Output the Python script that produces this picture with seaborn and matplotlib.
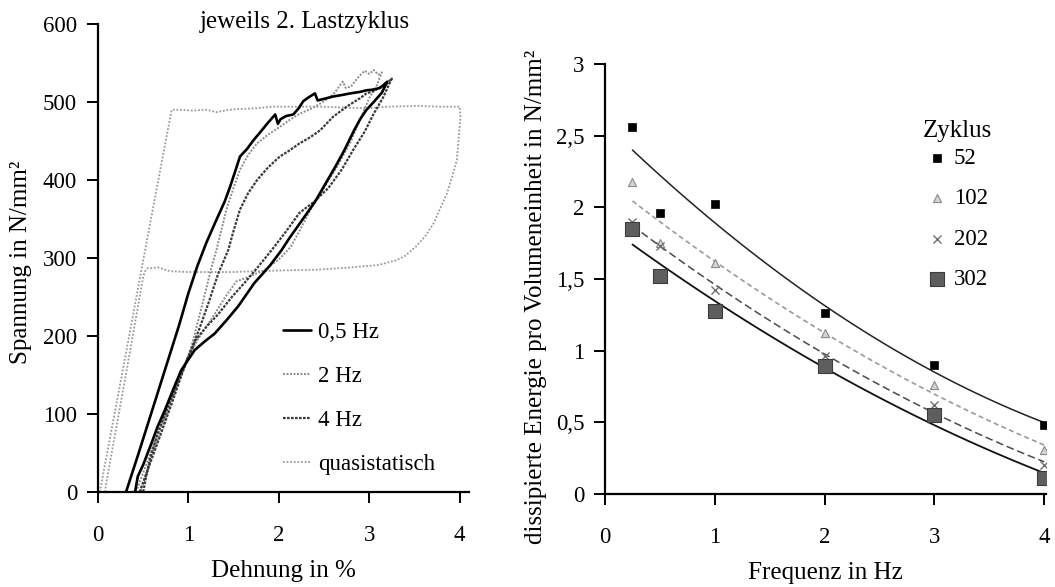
import numpy as np
import pandas as pd
import matplotlib
matplotlib.use("Agg")
import matplotlib.pyplot as plt
import seaborn as sns

# ---------------- data: left panel (stress-strain loops, 2nd load cycle) ----------------
hz05_strain = [0.31, 0.45, 0.60, 0.75, 0.90, 1.00, 1.10, 1.20, 1.31, 1.40, 1.46,
               1.52, 1.57, 1.65, 1.72, 1.80, 1.87, 1.93, 1.96, 1.99, 2.02, 2.08, 2.16, 2.22, 2.27, 2.33, 2.40,
               2.43, 2.50, 2.60, 2.70, 2.79, 2.90, 2.97, 3.05, 3.12, 3.20, 3.14, 3.05, 2.97, 2.90, 2.83, 2.72,
               2.63, 2.53, 2.40, 2.23, 2.12, 2.03, 1.90, 1.73, 1.64, 1.55, 1.42, 1.29, 1.18, 1.07, 1.00, 0.92,
               0.83, 0.74, 0.66, 0.59, 0.50, 0.44, 0.41]
hz05_stress = [0, 50, 105, 160, 215, 255, 290, 320, 349, 372, 391,
               412, 430, 440, 451, 462, 472, 480, 484, 472, 478, 482, 484, 492, 501, 506, 511,
               502, 504, 507, 509, 511, 513, 515, 516, 518, 526, 512, 500, 490, 478, 463, 437,
               418, 398, 372, 344, 326, 310, 290, 268, 253, 238, 220, 203, 193, 182, 170, 156,
               131, 105, 84, 62, 35, 20, 0]

hz2_strain = [0.42, 0.55, 0.68, 0.80, 0.92, 1.03, 1.12, 1.20, 1.26, 1.31, 1.42, 1.50, 1.57, 1.66, 1.76, 1.88,
              2.01, 2.12, 2.23, 2.35, 2.46, 2.55, 2.62, 2.68, 2.71, 2.74, 2.80, 2.88, 2.95, 3.00, 3.05, 3.10,
              3.14, 3.08, 3.00, 2.90, 2.80, 2.65, 2.50, 2.35, 2.23, 2.13, 2.00, 1.83, 1.65, 1.53, 1.42, 1.30,
              1.20, 1.10, 1.00, 0.90, 0.80, 0.70, 0.60, 0.52, 0.47]
hz2_stress = [0, 40, 80, 118, 152, 185, 225, 262, 290, 310, 362, 390, 413, 432, 447, 458,
              468, 477, 485, 491, 498, 505, 512, 522, 526, 518, 520, 532, 540, 536, 541, 535,
              538, 520, 505, 478, 450, 418, 390, 362, 335, 314, 298, 284, 275, 270, 252, 230,
              212, 195, 172, 145, 112, 80, 48, 18, 0]

hz4_strain = [0.46, 0.58, 0.70, 0.82, 0.94, 1.03, 1.13, 1.23, 1.33, 1.44, 1.50, 1.57, 1.66, 1.76, 1.88, 2.01,
              2.12, 2.23, 2.35, 2.46, 2.60, 2.75, 2.90, 2.97, 3.05, 3.12, 3.18, 3.25, 3.15, 3.05, 2.95, 2.82,
              2.70, 2.55, 2.40, 2.23, 2.08, 1.92, 1.78, 1.62, 1.48, 1.33, 1.20, 1.08, 0.97, 0.86, 0.76, 0.66,
              0.58, 0.53, 0.50]
hz4_stress = [0, 38, 76, 115, 155, 182, 212, 245, 280, 310, 335, 362, 383, 400, 416, 430,
              438, 447, 455, 464, 481, 494, 505, 511, 514, 519, 522, 530, 505, 485, 462, 438,
              414, 390, 373, 358, 334, 310, 290, 268, 250, 228, 212, 195, 165, 135, 105, 75,
              45, 18, 0]

qs_strain = [0.02, 0.30, 0.50, 0.70, 0.815, 0.90, 1.05, 1.20, 1.31, 1.45, 1.57, 1.75, 1.94, 2.20, 2.46, 2.70,
             2.97, 3.20, 3.53, 3.80, 4.00, 4.01, 4.00, 3.97, 3.92, 3.86, 3.78, 3.71, 3.62, 3.52, 3.40, 3.30,
             3.10, 2.80, 2.43, 2.00, 1.48, 1.00, 0.80, 0.66, 0.58, 0.55, 0.52, 0.50, 0.30, 0.09, 0.08]
qs_stress = [0, 172, 297, 420, 490, 490, 489, 490, 487, 490, 491, 492, 494, 494, 494, 493,
             492, 494, 495, 494, 494, 480, 468, 426, 405, 383, 362, 344, 328, 315, 303, 297,
             291, 288, 285, 284, 282, 282, 283, 288, 287, 287, 283, 276, 145, 11, 0]

left_labels = ["0,5 Hz", "2 Hz", "4 Hz", "quasistatisch"]

# ---------------- data: right panel (dissipated energy vs frequency) ----------------
freq = [0.25, 0.5, 1, 2, 3, 4]
e52 = [2.56, 1.96, 2.02, 1.26, 0.90, 0.48]
e102 = [2.18, 1.75, 1.61, 1.12, 0.76, 0.31]
e202 = [1.90, 1.73, 1.42, 0.96, 0.62, 0.20]
e302 = [1.85, 1.52, 1.28, 0.89, 0.55, 0.11]
cycles = ["52", "102", "202", "302"]

left_xticks = [0, 1, 2, 3, 4]
left_yticks = [0, 100, 200, 300, 400, 500, 600]
right_xticks = [0, 1, 2, 3, 4]
right_yticks = [0, 0.5, 1, 1.5, 2, 2.5, 3]
right_yticklabels = ["0", "0,5", "1", "1,5", "2", "2,5", "3"]

# ---------------- style ----------------
sns.set_theme(style="ticks")
plt.rcParams["font.family"] = ["Liberation Serif", "DejaVu Serif"]
plt.rcParams["axes.linewidth"] = 1.6
plt.rcParams["axes.edgecolor"] = "black"
plt.rcParams["xtick.color"] = "black"
plt.rcParams["ytick.color"] = "black"
plt.rcParams["text.color"] = "black"
plt.rcParams["axes.labelcolor"] = "black"

FS_TICK = 16.5
FS_LAB = 18

W, H = 1055, 587
fig = plt.figure(figsize=(W / 100, H / 100), dpi=100)

def px_axes(x0, x1, y_top, y_bot):
    return [x0 / W, 1 - y_bot / H, (x1 - x0) / W, (y_bot - y_top) / H]

axL = fig.add_axes(px_axes(98, 98 + 4.1 * 90.4, 24, 492))
axR = fig.add_axes(px_axes(605, 605 + 4.02 * 109.8, 64, 494))

# ---------------- left panel ----------------
sns.lineplot(x=qs_strain, y=qs_stress, sort=False, estimator=None, ax=axL,
             color="#9a9a9a", lw=1.3, linestyle=(0, (1, 1)), label=left_labels[3])
sns.lineplot(x=hz2_strain, y=hz2_stress, sort=False, estimator=None, ax=axL,
             color="#8c8c8c", lw=1.4, linestyle=(0, (1, 0.8)), label=left_labels[1])
sns.lineplot(x=hz4_strain, y=hz4_stress, sort=False, estimator=None, ax=axL,
             color="#3a3a3a", lw=1.6, linestyle=(0, (1.2, 0.6)), label=left_labels[2])
sns.lineplot(x=hz05_strain, y=hz05_stress, sort=False, estimator=None, ax=axL,
             color="black", lw=1.9, label=left_labels[0])

axL.set_xlim(0, 4.1)
axL.set_ylim(0, 600)
axL.set_xticks(left_xticks)
axL.set_yticks(left_yticks)
axL.set_xticklabels([str(v) for v in left_xticks])
axL.set_yticklabels([str(v) for v in left_yticks])
axL.set_xlabel("Dehnung in %", fontsize=FS_LAB, labelpad=10)
axL.set_ylabel("Spannung in N/mm²", fontsize=FS_LAB)
axL.yaxis.set_label_coords(-0.178, 0.49)

hL, lL = axL.get_legend_handles_labels()
order = [lL.index(l) for l in left_labels]
axL.legend([hL[i] for i in order], [lL[i] for i in order],
           loc="upper left", bbox_to_anchor=(283 / W, 1 - 322 / H), bbox_transform=fig.transFigure,
           frameon=False, fontsize=FS_TICK, handlelength=1.22, handletextpad=0.3,
           labelspacing=1.0, borderpad=0, borderaxespad=0)

fig.text(200 / W, 1 - 22 / H, "jeweils 2. Lastzyklus", fontsize=FS_LAB, ha="left", va="center")

# ---------------- right panel ----------------
series = [e52, e102, e202, e302]
mstyle = [
    dict(marker="s", s=38, color="black", edgecolor="black", linewidth=0.5),
    dict(marker="^", s=34, color="#d4d4d4", edgecolor="#8a8a8a", linewidth=0.8),
    dict(marker="x", s=34, color="#707070", linewidth=1.0),
    dict(marker="s", s=105, color="#5e5e5e", edgecolor="#3c3c3c", linewidth=0.8),
]
lstyle = [
    dict(color="#222222", lw=1.1, linestyle="-"),
    dict(color="#9a9a9a", lw=1.2, linestyle=(0, (3, 2))),
    dict(color="#4a4a4a", lw=1.1, linestyle=(0, (5, 2.5))),
    dict(color="#111111", lw=1.3, linestyle="-"),
]
for vals, lab, ms, ls in zip(series, cycles, mstyle, lstyle):
    sns.regplot(x=np.array(freq, float), y=np.array(vals, float), order=2, ci=None, scatter=False,
                truncate=True, ax=axR, line_kws=ls)
    sns.scatterplot(x=freq, y=vals, ax=axR, label=lab, zorder=3, **ms)

axR.set_xlim(0, 4.02)
axR.set_ylim(0, 3)
axR.set_xticks(right_xticks)
axR.set_yticks(right_yticks)
axR.set_xticklabels([str(v) for v in right_xticks])
axR.set_yticklabels(right_yticklabels)
axR.set_xlabel("Frequenz in Hz", fontsize=FS_LAB, labelpad=10)
axR.set_ylabel("dissipierte Energie pro Volumeneinheit in N/mm²", fontsize=FS_LAB)
axR.yaxis.set_label_coords(-0.132, 0.458)

hR, lR = axR.get_legend_handles_labels()
axR.legend(hR, lR, loc="upper left", bbox_to_anchor=(923 / W, 1 - 148 / H),
           bbox_transform=fig.transFigure, frameon=False, fontsize=FS_TICK,
           handlelength=1.2, handletextpad=0.15, labelspacing=0.84, borderpad=0, borderaxespad=0)
fig.text(923 / W, 1 - 131 / H, "Zyklus", fontsize=FS_LAB, ha="left", va="center")

for ax in (axL, axR):
    sns.despine(ax=ax)
    ax.tick_params(axis="both", direction="out", length=8, width=1.4, labelsize=FS_TICK)
    ax.tick_params(axis="x", pad=16)
    ax.tick_params(axis="y", pad=7)
    ax.set_facecolor("white")

fig.savefig("out.png", dpi=100, facecolor="white")
